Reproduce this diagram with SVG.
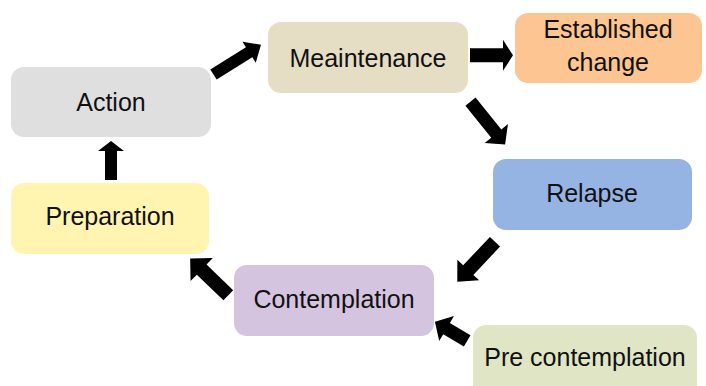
<svg xmlns="http://www.w3.org/2000/svg" width="706" height="386" viewBox="0 0 706 386">
<style>
text{font-family:"Liberation Sans",Arial,sans-serif;font-size:25px;fill:#111;text-anchor:middle}
.arr{fill:#000}
</style>
<rect width="706" height="386" fill="#fff"/>
<g id="action"><rect x="11" y="67" width="200" height="70" rx="13" fill="#dfdfdf"/><text x="111" y="111">Action</text></g>
<g id="maintenance"><rect x="268" y="22" width="200" height="71" rx="13" fill="#e6dec4"/><text x="368" y="67">Meaintenance</text></g>
<g id="established"><rect x="515" y="13" width="187" height="70" rx="13" fill="#fcc592"/><text x="608" y="38">Established</text><text x="608" y="71">change</text></g>
<g id="relapse"><rect x="493" y="159" width="199" height="71" rx="13" fill="#95b4e4"/><text x="592" y="202">Relapse</text></g>
<g id="preparation"><rect x="11" y="183" width="198" height="71" rx="13" fill="#fff5b1"/><text x="110" y="225">Preparation</text></g>
<g id="contemplation"><rect x="234" y="265" width="200" height="71" rx="13" fill="#d5c4df"/><text x="334" y="308">Contemplation</text></g>
<g id="precontemplation"><rect x="473" y="325" width="224" height="80" rx="13" fill="#e0e6c5"/><text x="585" y="366">Pre contemplation</text></g>
<g id="connectors" class="arr">
<polygon transform="translate(111,180) rotate(-90)" points="0,-6 29,-6 29,-13 39,0 29,13 29,6 0,6"/>
<polygon transform="translate(213.5,74.5) rotate(-32)" points="0,-6 42,-6 42,-12.5 56,0 42,12.5 42,6 0,6"/>
<polygon transform="translate(470,55.3)" points="0,-7 33,-7 33,-15.5 43,0 33,15.5 33,7 0,7"/>
<polygon transform="translate(470.5,101.7) rotate(51)" points="0,-6.5 41,-6.5 41,-15 55,0 41,15 41,6.5 0,6.5"/>
<polygon transform="translate(495,241.7) rotate(133.3)" points="0,-7 39,-7 39,-15 55,0 39,15 39,7 0,7"/>
<polygon transform="translate(228.3,295.3) rotate(-136)" points="0,-7 37,-7 37,-16 53,0 37,16 37,7 0,7"/>
<polygon transform="translate(467.2,340.8) rotate(-149.3)" points="0,-6.5 24,-6.5 24,-14.5 37.5,0 24,14.5 24,6.5 0,6.5"/>
</g>
</svg>
